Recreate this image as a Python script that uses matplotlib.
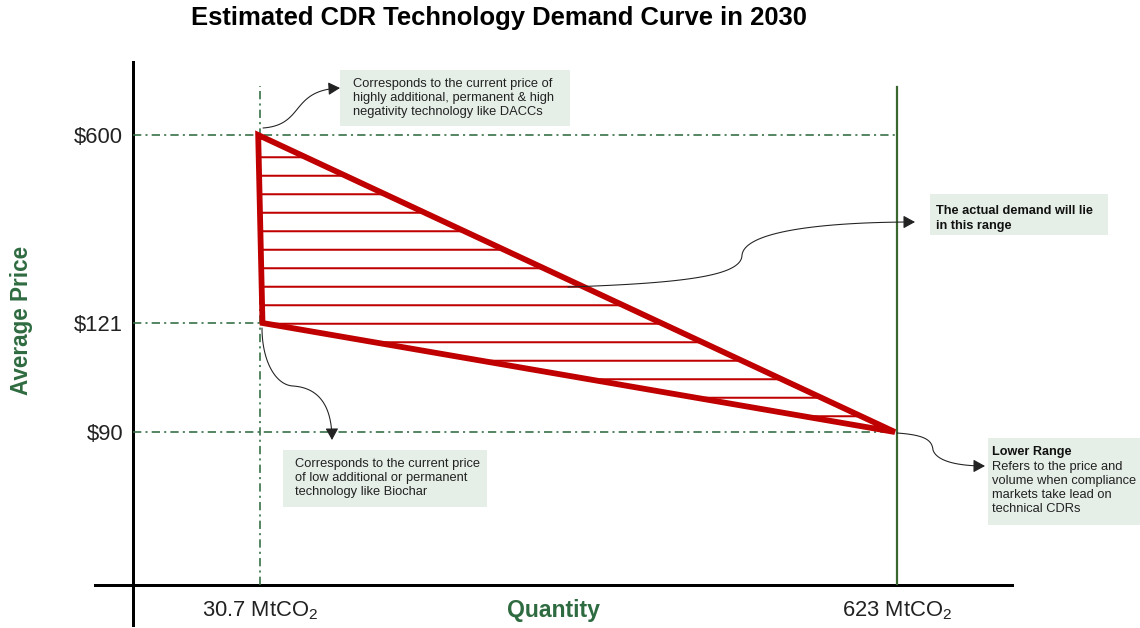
import numpy as np
import matplotlib
matplotlib.use('Agg')
import matplotlib.pyplot as plt
from matplotlib.patches import Polygon, Rectangle, FancyArrowPatch
from matplotlib.path import Path

plt.rcParams['font.family'] = ['Liberation Sans', 'DejaVu Sans']
plt.rcParams['mathtext.fontset'] = 'custom'
plt.rcParams['mathtext.rm'] = 'Liberation Sans'

W, H, DPI = 1140, 628, 111

# データ
TICK_PRICES = [90, 121, 600]
TICK_PRICE_LABELS = ['$90', '$121', '$600']
TICK_QTY = [30.7, 623]
TICK_QTY_LABELS = [r'30.7 MtCO$_2$', r'623 MtCO$_2$']
DEMAND_QTY = [29, 33, 621]          # 三角形の頂点 (数量)
DEMAND_PRICE = [600, 121, 90]       # 三角形の頂点 (価格)
GUIDE_TOP = 726                     # 縦の補助線の上端 (価格換算)

# 色
RED = '#c00000'
GREEN = '#2f6b40'
LINE_GREEN = '#3b6630'
BOX = '#e5efe7'
INK = '#222222'

# 模式図の縦軸 (価格 -> 高さ) の区分線形スケール
PRICE_KNOTS = [-1000, 46.5, 90, 121, 600, 786, 5000]
HEIGHT_KNOTS = [-3680, 0, 153, 262, 450, 523, 2177]


def _fwd(v):
    return np.interp(v, PRICE_KNOTS, HEIGHT_KNOTS)


def _inv(v):
    return np.interp(v, HEIGHT_KNOTS, PRICE_KNOTS)


def fs(px):
    return px * 72 / DPI


def fp(x, y):
    return (x / W, 1 - y / H)


def bezier(p0, p1, p2, p3, n=40):
    t = np.linspace(0, 1, n)[:, None]
    p0, p1, p2, p3 = map(np.asarray, (p0, p1, p2, p3))
    return ((1 - t) ** 3) * p0 + 3 * ((1 - t) ** 2) * t * p1 + 3 * (1 - t) * t ** 2 * p2 + t ** 3 * p3


def curved_arrow(fig, segments):
    pts = np.vstack([bezier(*s) for s in segments])
    pts = np.column_stack([pts[:, 0] / W, 1 - pts[:, 1] / H])
    arr = FancyArrowPatch(path=Path(pts), transform=fig.transFigure,
                          arrowstyle='-|>,head_length=4,head_width=2.2',
                          lw=0.7, color=INK, mutation_scale=1.6)
    fig.add_artist(arr)


def box(fig, x0, y0, x1, y1):
    fig.add_artist(Rectangle(fp(x0, y1), (x1 - x0) / W, (y1 - y0) / H,
                             transform=fig.transFigure, facecolor=BOX,
                             edgecolor='none', zorder=1))


fig = plt.figure(figsize=(W / DPI, H / DPI), dpi=DPI)
plt.rcParams['hatch.linewidth'] = 1.3
ax = fig.add_axes([133 / W, 43 / H, 879 / W, 523 / H])
ax.set_yscale('function', functions=(_fwd, _inv))
ax.set_xlim(-87.4, 729.9)
ax.set_ylim(46.5, 786)
for s in ax.spines.values():
    s.set_visible(False)

# 軸線
ax.plot([0, 0], [-0.0765, 1], transform=ax.transAxes, color='black', lw=fs(3), clip_on=False)
ax.plot([-0.0432, 1], [0, 0], transform=ax.transAxes, color='black', lw=fs(3), clip_on=False)

# 補助線 (一点鎖線)
dash = (0, (fs(8), fs(4), fs(2), fs(4)))
x0 = ax.get_xlim()[0]
y0 = ax.get_ylim()[0]
p90, p121, p600 = TICK_PRICES
q_lo, q_hi = TICK_QTY
ax.plot([x0, q_hi], [p90, p90], color=GREEN, lw=fs(1.6), ls=dash)
ax.plot([x0, q_lo], [p121, p121], color=GREEN, lw=fs(1.6), ls=dash)
ax.plot([x0, q_hi], [p600, p600], color=GREEN, lw=fs(1.6), ls=dash)
ax.plot([q_lo, q_lo], [y0, GUIDE_TOP], color=GREEN, lw=fs(1.6), ls=dash)
ax.plot([q_hi, q_hi], [y0, GUIDE_TOP - 4], color=LINE_GREEN, lw=fs(2.2))

# 需要レンジの三角形
verts = np.column_stack([DEMAND_QTY, DEMAND_PRICE])
ax.add_patch(Polygon(verts, closed=True, facecolor='none', edgecolor=RED,
                     lw=0, hatch='-', zorder=3))
ax.add_patch(Polygon(verts, closed=True, facecolor='none', edgecolor=RED,
                     lw=fs(5.8), joinstyle='miter', zorder=4))

# 目盛り
ax.set_yticks(TICK_PRICES)
ax.set_yticklabels(TICK_PRICE_LABELS)
ax.set_xticks(TICK_QTY)
ax.set_xticklabels(TICK_QTY_LABELS)
ax.yaxis.set_minor_locator(matplotlib.ticker.NullLocator())
ax.tick_params(axis='y', length=0, pad=fs(10), labelsize=fs(22), labelcolor=INK)
ax.tick_params(axis='x', length=0, pad=fs(14), labelsize=fs(22), labelcolor=INK)

ax.set_ylabel('Average Price', fontsize=fs(22.5), fontweight='bold', color=GREEN, va='center')
ax.yaxis.set_label_coords((21 - 133) / 879, (585 - 320) / 523)
ax.set_xlabel('Quantity', fontsize=fs(23), fontweight='bold', color=GREEN, va='center')
ax.xaxis.set_label_coords((553 - 133) / 879, -(610 - 585) / 523)

fig.text(*fp(499, 18), 'Estimated CDR Technology Demand Curve in 2030',
         ha='center', va='center', fontsize=fs(25.7), fontweight='bold', color='black')

# 注釈ボックス
box(fig, 340, 70, 570, 126)
fig.text(*fp(353, 78), 'Corresponds to the current price of\nhighly additional, permanent & high\n'
         'negativity technology like DACCs', ha='left', va='top', fontsize=fs(12.9),
         color=INK, linespacing=1.24, zorder=2)

box(fig, 930, 194, 1108, 235)
fig.text(*fp(936, 205), 'The actual demand will lie\nin this range', ha='left', va='top',
         fontsize=fs(12.8), fontweight='bold', color='#111111', linespacing=1.35, zorder=2)

box(fig, 283, 450, 487, 507)
fig.text(*fp(295, 458), 'Corresponds to the current price\nof low additional or permanent\n'
         'technology like Biochar', ha='left', va='top', fontsize=fs(12.9),
         color=INK, linespacing=1.2, zorder=2)

box(fig, 988, 438, 1140, 525)
fig.text(*fp(992, 446), 'Lower Range', ha='left', va='top', fontsize=fs(12.6),
         fontweight='bold', color='#111111', zorder=2)
fig.text(*fp(992, 461), 'Refers to the price and\nvolume when compliance\n'
         'markets take lead on\ntechnical CDRs', ha='left', va='top', fontsize=fs(12.9),
         color=INK, linespacing=1.22, zorder=2)

# 矢印
curved_arrow(fig, [((263, 128), (305, 125), (290, 90), (340, 88))])
curved_arrow(fig, [((568, 287), (690, 283), (742, 275), (742, 255)),
                   ((742, 255), (745, 230), (830, 222), (915, 222))])
curved_arrow(fig, [((262, 328), (262, 360), (275, 385), (293, 386)),
                   ((293, 386), (322, 388), (332, 410), (332, 440))])
curved_arrow(fig, [((897, 433), (925, 435), (932, 440), (933, 450)),
                   ((933, 450), (937, 462), (960, 466), (985, 466))])

fig.savefig('out.png', dpi=DPI, facecolor='white')
